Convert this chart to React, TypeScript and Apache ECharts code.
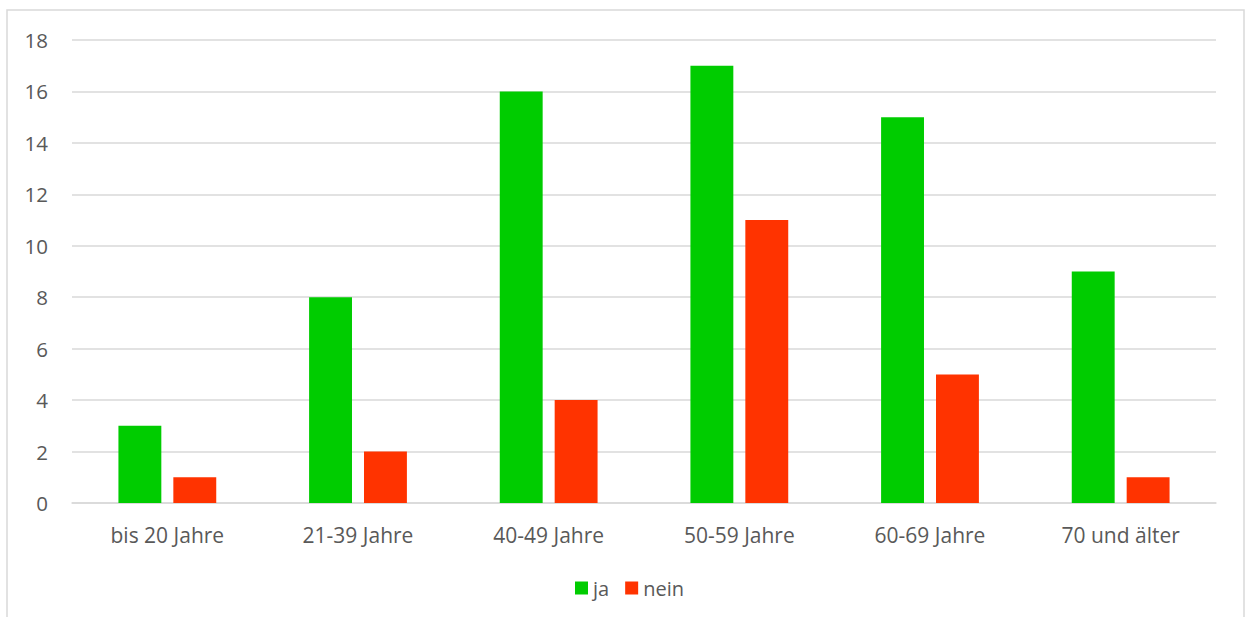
import React, { useEffect, useRef } from "react";
import * as echarts from "echarts";

const categories = ["bis 20 Jahre", "21-39 Jahre", "40-49 Jahre", "50-59 Jahre", "60-69 Jahre", "70 und älter"];
const jaValues = [3, 8, 16, 17, 15, 9];
const neinValues = [1, 2, 4, 11, 5, 1];
const seriesNames = ["ja", "nein"];

const FONT = "'Open Sans', 'Noto Sans', sans-serif";
const TEXT = "#595959";
const GRID = "#d9d9d9";

export default function App() {
  const ref = useRef<HTMLDivElement>(null);

  useEffect(() => {
    if (!ref.current) return;
    const chart = echarts.init(ref.current, undefined, { renderer: "svg" });
    chart.setOption({
      animation: false,
      backgroundColor: "#ffffff",
      textStyle: { fontFamily: FONT },
      graphic: [
        {
          type: "rect",
          shape: { x: 7, y: 10, width: 1237, height: 640 },
          style: { fill: "none", stroke: GRID, lineWidth: 1.5 },
          silent: true,
        },
      ],
      grid: { left: 72, right: 30, top: 40, bottom: 114, containLabel: false },
      legend: {
        data: seriesNames,
        top: 573,
        left: 570,
        itemWidth: 13,
        itemHeight: 13,
        itemGap: 16,
        icon: "rect",
        textStyle: { color: TEXT, fontSize: 20, fontFamily: FONT },
      },
      xAxis: {
        type: "category",
        data: categories,
        axisLine: { lineStyle: { color: GRID, width: 1.5 } },
        axisTick: { show: false },
        axisLabel: { color: TEXT, fontSize: 21, fontFamily: FONT, margin: 21 },
      },
      yAxis: {
        type: "value",
        min: 0,
        max: 18,
        interval: 2,
        axisLine: { show: false },
        axisTick: { show: false },
        splitLine: { lineStyle: { color: GRID, width: 1.5 } },
        axisLabel: { color: TEXT, fontSize: 20.5, fontFamily: FONT, margin: 24 },
      },
      series: [
        {
          name: seriesNames[0],
          type: "bar",
          data: jaValues,
          barWidth: "22.5%",
          barGap: "28%",
          itemStyle: { color: "#00cc00" },
        },
        {
          name: seriesNames[1],
          type: "bar",
          data: neinValues,
          barWidth: "22.5%",
          barGap: "28%",
          itemStyle: { color: "#ff3300" },
        },
      ],
    });
    return () => chart.dispose();
  }, []);

  return (
    <div
      ref={ref}
      style={{ position: "fixed", left: 0, top: 0, width: 1246, height: 617, background: "#fff" }}
    />
  );
}
